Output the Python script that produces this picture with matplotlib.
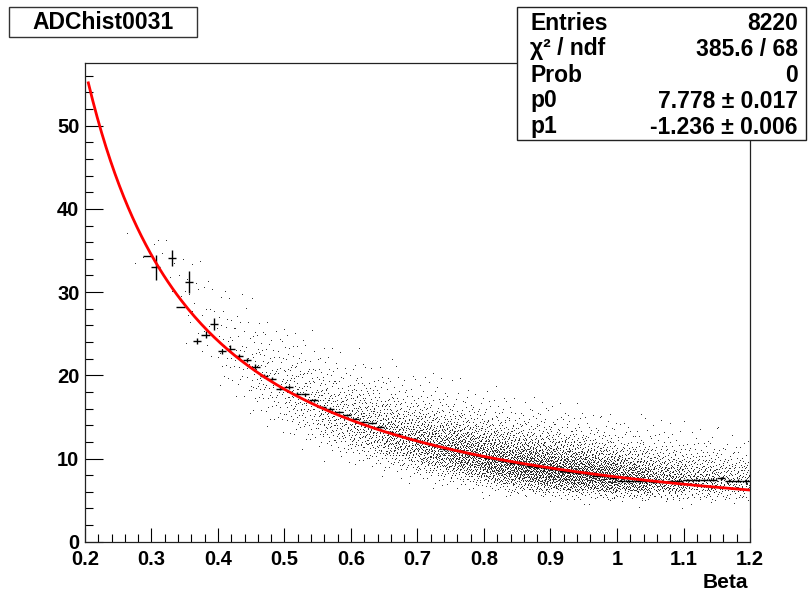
import numpy as np
import matplotlib.pyplot as plt
from matplotlib.patches import Rectangle

plt.rcParams['font.family'] = ['Liberation Sans', 'DejaVu Sans']
plt.rcParams['font.weight'] = 'bold'

# fit result shown in the stats box: f(x) = p0 * x^p1
p0 = 7.778
p1 = -1.236
fit_lo, fit_hi = 0.205, 1.2

# profile histogram: 80 bins on [0.2, 1.2]
nbins = 80
x_lo, x_hi = 0.2, 1.2
prof_bin = [7, 8, 10, 11, 12] + list(range(13, 80))
prof_val = [34.3, 33.0, 34.1, 28.2, 31.2,
            24.1, 24.9, 26.2, 22.9, 23.2, 22.3, 21.8, 21.0, 19.9, 19.6,
            18.4, 18.6, 17.8, 17.7, 17.0, 16.2, 16.0, 15.6, 15.2, 14.8,
            14.4, 14.3, 13.8, 13.2, 12.9, 12.6, 12.3, 12.0, 11.7, 11.5,
            11.2, 11.0, 10.8, 10.5, 10.3, 10.1, 9.9, 9.7, 9.5, 9.3,
            9.1, 9.0, 8.8, 8.7, 8.5, 8.4, 8.2, 8.1, 7.95, 7.9,
            7.6, 7.35, 7.3, 7.3, 7.25, 7.2, 7.2, 7.25, 7.33, 7.4,
            7.4, 7.4, 7.45, 7.6, 7.35, 7.35, 7.3]
prof_err = [0.0, 1.5, 1.0, 0.0, 1.3,
            0.35, 0.4, 0.7, 0.3, 0.4, 0.3, 0.25, 0.3, 0.2, 0.2,
            0.2, 0.2, 0.15, 0.15, 0.15, 0.15, 0.15, 0.12, 0.12, 0.1,
            0.1, 0.1, 0.1, 0.09, 0.09, 0.08, 0.08, 0.07, 0.07, 0.07,
            0.07, 0.07, 0.07, 0.07, 0.07, 0.07, 0.07, 0.07, 0.07, 0.07,
            0.07, 0.07, 0.07, 0.07, 0.07, 0.07, 0.07, 0.07, 0.08, 0.08,
            0.08, 0.09, 0.09, 0.1, 0.1, 0.1, 0.12, 0.12, 0.15, 0.15,
            0.15, 0.15, 0.17, 0.2, 0.18, 0.18, 0.2]

# scatter cloud read as counts per cell: columns 0.05 wide, rows 1 unit tall
cloud_dx = 0.05
cloud_x0 = [0.25, 0.30, 0.35, 0.40, 0.45, 0.50, 0.55, 0.60, 0.65, 0.70,
            0.75, 0.80, 0.85, 0.90, 0.95, 1.00, 1.05, 1.10, 1.15]
cloud_y0 = [33, 29, 21, 16, 13, 11, 9, 8, 7, 6, 5, 5, 4, 4, 4, 4, 4, 4, 4]
cloud_counts = [
    [1, 1, 0, 1],
    [1, 1, 2, 2, 2, 2, 1, 1],
    [1, 1, 2, 3, 4, 4, 4, 3, 3, 2, 2, 1, 1],
    [1, 2, 3, 5, 7, 8, 8, 7, 6, 5, 4, 3, 2, 1, 1],
    [1, 3, 6, 9, 13, 15, 15, 14, 12, 9, 7, 5, 3, 2, 1],
    [1, 4, 9, 15, 21, 24, 24, 21, 17, 13, 9, 6, 4, 2, 1],
    [1, 4, 11, 21, 31, 36, 36, 31, 23, 16, 11, 7, 4, 2, 1],
    [2, 7, 18, 34, 48, 54, 50, 40, 28, 19, 12, 7, 4, 2, 1],
    [2, 9, 26, 52, 70, 74, 64, 46, 30, 19, 11, 6, 4, 2, 1],
    [2, 10, 32, 66, 92, 98, 82, 60, 38, 23, 13, 7, 4, 2, 1],
    [1, 8, 32, 76, 112, 122, 102, 72, 46, 27, 15, 8, 4, 2, 1],
    [3, 26, 80, 130, 140, 115, 82, 52, 31, 18, 10, 5, 3, 1],
    [0, 10, 58, 125, 158, 140, 102, 65, 38, 22, 12, 6, 3, 1],
    [1, 18, 85, 152, 158, 122, 82, 50, 28, 15, 8, 4, 2],
    [1, 26, 105, 160, 140, 98, 60, 33, 17, 9, 5, 2],
    [2, 32, 105, 135, 105, 68, 38, 19, 10, 5, 2, 1],
    [2, 30, 85, 100, 72, 45, 24, 12, 6, 3, 2],
    [2, 24, 64, 72, 52, 32, 17, 8, 4, 2, 1],
    [2, 20, 52, 55, 38, 22, 11, 5, 2, 1],
]

stat_labels = ['Entries', 'χ² / ndf', 'Prob', 'p0', 'p1']
stat_values = ['8220', '385.6 / 68', '0', '7.778 ± 0.017', '-1.236 ± 0.006']


def fit(x):
    return p0 * x ** p1


def halton(i, b):
    f, r = 1.0, 0.0
    while i > 0:
        f /= b
        r += f * (i % b)
        i //= b
    return r


W, H = 808, 596
fig = plt.figure(figsize=(W / 100, H / 100), dpi=100)
ax = fig.add_axes([85 / W, 1 - 541.7 / H, 665 / W, 478.4 / H])

# spread the dots of each cell evenly (Halton sequence), rows follow the band slope
xs, ys = [], []
k = 0
for x0, y0, counts in zip(cloud_x0, cloud_y0, cloud_counts):
    xc = x0 + cloud_dx / 2
    for j, n in enumerate(counts):
        for _ in range(n):
            k += 1
            x = x0 + halton(k, 2) * cloud_dx
            xs.append(x)
            ys.append(y0 + j + halton(k, 3) + fit(x) - fit(xc))
ax.plot(xs, ys, ',', color='black', alpha=0.8)

# profile points
bw = (x_hi - x_lo) / nbins
px = [x_lo + (b + 0.5) * bw for b in prof_bin]
ax.errorbar(px, prof_val, xerr=bw / 2, yerr=prof_err, fmt='none',
            ecolor='black', elinewidth=1.0, capsize=0, zorder=3)

# fit curve
xf = np.linspace(fit_lo, fit_hi, 300)
ax.plot(xf, fit(xf), color='#ff0000', lw=2.0, zorder=4)

ax.set_xlim(x_lo, x_hi)
ax.set_ylim(0, 57.5)
ax.set_xticks(np.arange(0.2, 1.21, 0.1))
ax.set_xticklabels(['0.2', '0.3', '0.4', '0.5', '0.6', '0.7', '0.8', '0.9', '1', '1.1', '1.2'])
ax.set_xticks(np.arange(0.2, 1.2001, 0.02), minor=True)
ax.set_yticks([0, 10, 20, 30, 40, 50])
ax.set_yticks(np.arange(0, 57, 2), minor=True)
ax.tick_params(axis='x', which='major', direction='in', length=10, width=0.8, pad=6, labelsize=14.5)
ax.tick_params(axis='x', which='minor', direction='in', length=5.5, width=0.8)
ax.tick_params(axis='y', which='major', direction='in', length=13, width=0.8, pad=4, labelsize=14.5)
ax.tick_params(axis='y', which='minor', direction='in', length=5.5, width=0.8)
for lab in ax.get_xticklabels() + ax.get_yticklabels():
    lab.set_fontweight('bold')
for s in ax.spines.values():
    s.set_linewidth(0.9)
    s.set_color('#222222')

fig.text(748 / W, 1 - 582 / H, 'Beta', ha='right', va='center', fontsize=15, fontweight='bold')

# title box
fig.patches.append(Rectangle((9.3 / W, 1 - 36.7 / H), 188 / W, 30 / H, transform=fig.transFigure,
                             facecolor='white', edgecolor='#333333', lw=1.0, zorder=5))
fig.text(103 / W, 1 - 22.5 / H, 'ADChist0031', ha='center', va='center', fontsize=16.5,
         fontweight='bold', zorder=6)

# stats box
fig.patches.append(Rectangle((516.7 / W, 1 - 140 / H), 289.3 / W, 133.3 / H, transform=fig.transFigure,
                             facecolor='white', edgecolor='#222222', lw=1.0, zorder=5))
rows = [23, 49, 75, 101, 127]
for lab, val, r in zip(stat_labels, stat_values, rows):
    fig.text(530 / W, 1 - r / H, lab, ha='left', va='center', fontsize=16.5, fontweight='bold', zorder=6)
    fig.text(798 / W, 1 - r / H, val, ha='right', va='center', fontsize=16.5, fontweight='bold', zorder=6)

fig.savefig('out.png', dpi=100)
